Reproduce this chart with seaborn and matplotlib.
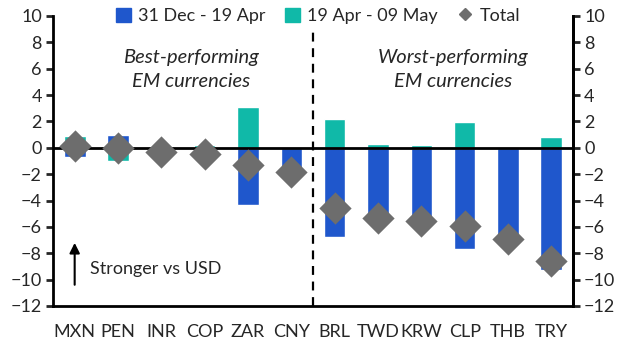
import matplotlib
matplotlib.use("Agg")
import matplotlib.pyplot as plt
import seaborn as sns
import pandas as pd
import numpy as np
from matplotlib.lines import Line2D
from matplotlib.patches import Patch

currencies = ["MXN", "PEN", "INR", "COP", "ZAR", "CNY", "BRL", "TWD", "KRW", "CLP", "THB", "TRY"]
period1 = [-0.7, 1.0, -0.3, -0.7, -4.3, -2.0, -6.8, -5.6, -5.8, -7.7, -7.0, -9.3]
period2 = [0.9, -1.0, 0.0, 0.2, 3.1, 0.1, 2.2, 0.3, 0.25, 1.95, 0.0, 0.8]
total = [0.15, 0.0, -0.3, -0.5, -1.3, -1.8, -4.6, -5.3, -5.55, -5.95, -6.95, -8.55]
series_names = ["31 Dec - 19 Apr", "19 Apr - 09 May"]
yticks = list(range(-12, 11, 2))

BLUE = "#1F57CC"
TEAL = "#10B9A8"
GREY = "#6D6D6D"

sns.set_style("white")
plt.rcParams["font.family"] = ["Lato", "DejaVu Sans"]

long = pd.DataFrame({
    "cur": currencies * 2,
    "val": period1 + period2,
    "series": [series_names[0]] * len(currencies) + [series_names[1]] * len(currencies),
})
tot = pd.DataFrame({"cur": currencies, "total": total})

fig = plt.figure(figsize=(6.27, 3.53), dpi=100)
ax = fig.add_axes([53 / 627, 1 - 306 / 353, 520 / 627, 290 / 353])

sns.barplot(data=long, x="cur", y="val", hue="series", dodge=False,
            palette=[BLUE, TEAL], width=0.5, ax=ax, legend=False,
            order=currencies, saturation=1)
sns.scatterplot(data=tot, x="cur", y="total", marker="D", s=270, color=GREY,
                edgecolor=GREY, linewidth=0, ax=ax, zorder=5, legend=False)

ax.set_xlim(-0.5, len(currencies) - 0.5)
ax.set_ylim(-12, 10)
ax.set_yticks(yticks)
ax.set_xticks(np.arange(len(currencies) + 1) - 0.5, minor=True)
ax.tick_params(axis="x", which="major", length=0, labelsize=13, pad=13)
ax.tick_params(axis="x", which="minor", length=6, width=2, direction="out")
ax.tick_params(axis="y", length=5, width=2, direction="out", labelsize=13, pad=3)
ax.set_xlabel("")
ax.set_ylabel("")
ax.axhline(0, color="black", lw=2, zorder=4)

for s in ["left", "right", "bottom"]:
    ax.spines[s].set_visible(True)
    ax.spines[s].set_linewidth(2)
    ax.spines[s].set_color("black")
ax.spines["top"].set_visible(False)

ax2 = ax.twinx()
ax2.set_ylim(-12, 10)
ax2.set_yticks(yticks)
ax2.tick_params(axis="y", length=5, width=2, direction="out", labelsize=13, pad=3)
for s in ["left", "top", "bottom"]:
    ax2.spines[s].set_visible(False)
ax2.spines["right"].set_linewidth(2)
ax2.spines["right"].set_color("black")

ax.plot([5.5, 5.5], [-12, 9.0], ls=(0, (4, 3)), color="black", lw=1.6, zorder=3)

ax.text(2.68, 6.85, "Best-performing", ha="center", va="center", style="italic", fontsize=14.5)
ax.text(2.68, 5.0, "EM currencies", ha="center", va="center", style="italic", fontsize=14.5)
ax.text(8.74, 6.85, "Worst-performing", ha="center", va="center", style="italic", fontsize=14.5)
ax.text(8.74, 5.0, "EM currencies", ha="center", va="center", style="italic", fontsize=14.5)

ax.annotate("", xy=(0.0, -7.0), xytext=(0.0, -10.6),
            arrowprops=dict(arrowstyle="-|>,head_length=0.6,head_width=0.3", color="black", lw=1.5))
ax.text(0.35, -9.2, "Stronger vs USD", ha="left", va="center", fontsize=13)

handles = [Patch(color=BLUE, label=series_names[0]),
           Patch(color=TEAL, label=series_names[1]),
           Line2D([], [], marker="D", ls="", color=GREY, markersize=6, label="Total")]
leg = ax.legend(handles=handles, loc="center", bbox_to_anchor=(0.51, 1.0), ncol=3,
                frameon=False, fontsize=13, handlelength=0.8, handleheight=0.8,
                handletextpad=0.4, columnspacing=1.1, borderaxespad=0)

fig.savefig("out.png", dpi=100)
